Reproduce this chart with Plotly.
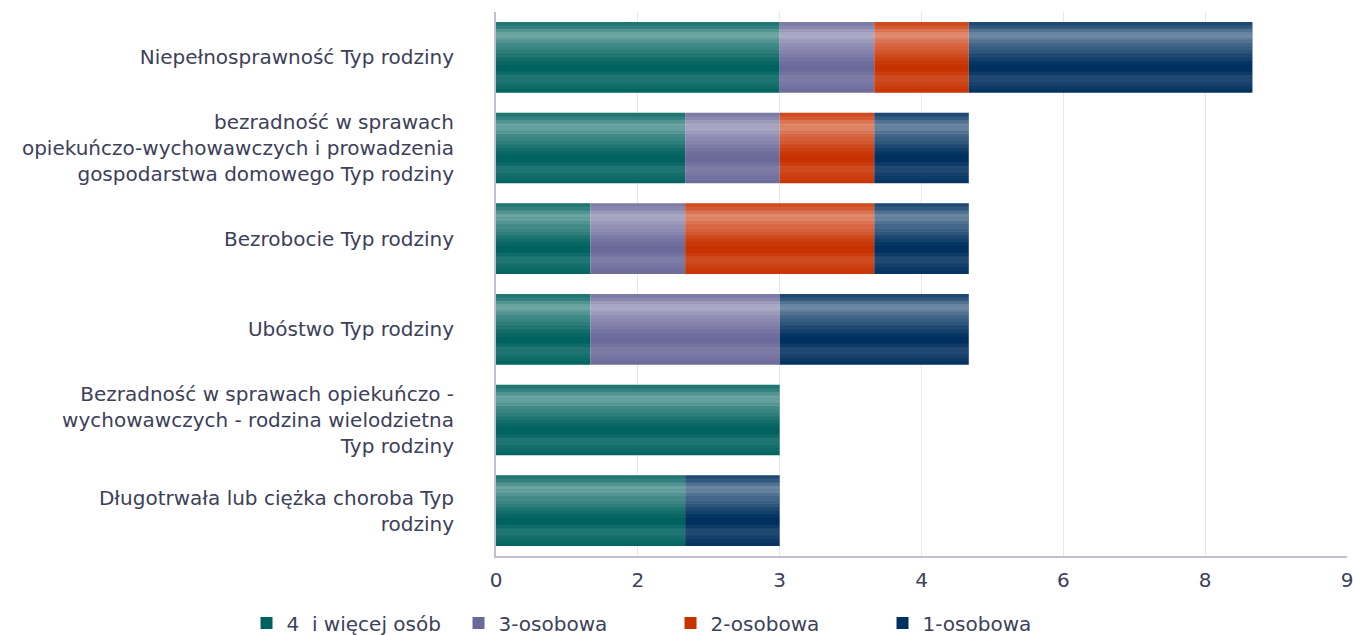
import numpy as np
import plotly.graph_objects as go

categories = [
    "Niepełnosprawność Typ rodziny",
    "bezradność w sprawach<br>opiekuńczo-wychowawczych i prowadzenia<br>gospodarstwa domowego Typ rodziny",
    "Bezrobocie Typ rodziny",
    "Ubóstwo Typ rodziny",
    "Bezradność w sprawach opiekuńczo -<br>wychowawczych - rodzina wielodzietna<br>Typ rodziny",
    "Długotrwała lub ciężka choroba Typ<br>rodziny",
]
series_names = ["4  i więcej osób", "3-osobowa", "2-osobowa", "1-osobowa"]
s4plus = [3, 2, 1, 1, 3, 2]
s3 = [1, 1, 1, 2, 0, 0]
s2 = [1, 1, 2, 0, 0, 0]
s1 = [3, 1, 1, 2, 0, 1]
tick_vals = [0, 1.5, 3, 4.5, 6, 7.5, 9]
tick_text = ["0", "2", "3", "4", "6", "8", "9"]

colors = ["#00625e", "#6c6a9a", "#c83200", "#00305f"]
series = [s4plus, s3, s2, s1]

FONT = "DejaVu Sans"
TXT = "#3d4059"
bw = 0.78

fig = go.Figure()
arr = np.array(series, dtype=float)
bases = np.vstack([np.zeros(arr.shape[1]), np.cumsum(arr, axis=0)[:-1]])
for name, vals, base, col in zip(series_names, series, bases, colors):
    fig.add_trace(go.Bar(
        y=categories, x=vals, base=base, name=name, orientation="h",
        marker=dict(color=col, line=dict(width=0)),
        width=bw,
    ))

# gradient shading overlay: white translucent strips (top -> bottom) across each bar
shade = [0.12, 0.20, 0.32, 0.42, 0.40, 0.32, 0.26, 0.22, 0.18, 0.12,
         0.07, 0.03, 0.0, 0.0, 0.05, 0.12, 0.12, 0.08, 0.05, 0.02]
totals = arr.sum(axis=0)
n = len(shade)
for i, a in enumerate(shade):
    if a <= 0:
        continue
    fig.add_trace(go.Bar(
        y=categories, x=totals, base=np.zeros(len(totals)), orientation="h",
        offset=-bw / 2 + i * bw / n, width=bw / n * 1.02,
        marker=dict(color=f"rgba(255,255,255,{a})", line=dict(width=0)),
        showlegend=False, hoverinfo="skip",
    ))

fig.update_layout(
    width=1353, height=635,
    barmode="overlay",
    paper_bgcolor="white", plot_bgcolor="white",
    margin=dict(l=496, r=6, t=12, b=79),
    font=dict(family=FONT, size=20, color=TXT),
    xaxis=dict(
        range=[0, 9], tickvals=tick_vals, ticktext=tick_text,
        showgrid=True, gridcolor="#e6e6ee", gridwidth=1,
        showline=True, linecolor="#c0c0d0", linewidth=1.5,
        zeroline=False, ticks="", tickfont=dict(size=20, color=TXT),
        ticklabelstandoff=5, automargin=False, ticklabeloverflow="allow",
    ),
    yaxis=dict(
        type="category", categoryarray=categories, range=[5.5, -0.5],
        showgrid=False, showline=True, linecolor="#c0c0d0", linewidth=2,
        ticks="", tickfont=dict(size=20, color=TXT), ticklabelstandoff=36,
        automargin=False,
    ),
    legend=dict(
        orientation="h", xref="container", yref="container",
        x=0.1822, y=0.0189, xanchor="left", yanchor="middle",
        font=dict(family=FONT, size=20, color=TXT),
        entrywidth=167, itemwidth=30, traceorder="normal",
    ),
)

fig.write_html("out.html", config={"displayModeBar": False},
               post_script="document.body.style.margin='0';")
